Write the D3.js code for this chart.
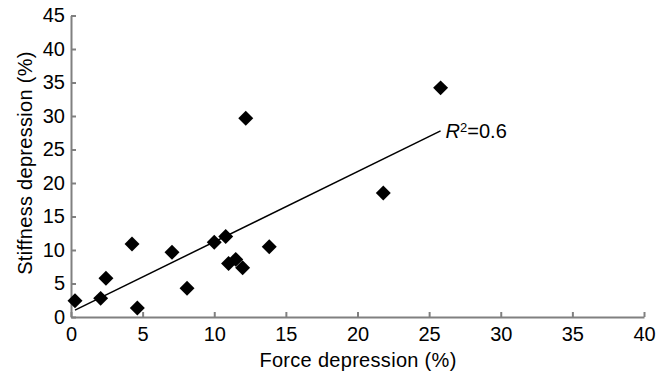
<!DOCTYPE html>
<html>
<head>
<meta charset="utf-8">
<script src="https://cdn.jsdelivr.net/npm/d3@7"></script>
<style>
  body { margin: 0; background: #fff; }
  svg { font-family: "Liberation Sans", Arial, sans-serif; }
  .axis path, .axis line { stroke: #808080; stroke-width: 2; }
  .axis text { font-size: 20px; fill: #000; }
</style>
</head>
<body>
<svg></svg>
<script>
// force depression (%) vs stiffness depression (%)
const forceDep = [0.28, 2.07, 2.44, 4.26, 4.63, 7.05, 8.1, 10.0, 10.8, 11.0, 11.5, 11.98, 13.84, 12.2, 21.8, 25.8];
const stiffDep = [2.43, 2.78, 5.77, 10.9, 1.34, 9.65, 4.28, 11.15, 12.0, 8.0, 8.6, 7.36, 10.5, 29.65, 18.5, 34.2];
const xTicks = [0, 5, 10, 15, 20, 25, 30, 35, 40];
const yTicks = [0, 5, 10, 15, 20, 25, 30, 35, 40, 45];
const r2Label = "0.6";

const svgWidth = 657, svgHeight = 372;
const margin = { top: 15.5, right: 13, bottom: 55, left: 71 };

const svg = d3.select("svg")
  .attr("width", svgWidth)
  .attr("height", svgHeight);

const xScale = d3.scaleLinear().domain([0, 40])
  .range([margin.left, svgWidth - margin.right]);
const yScale = d3.scaleLinear().domain([0, 45])
  .range([svgHeight - margin.bottom, margin.top]);

const dataset = forceDep.map((x, i) => ({ x: x, y: stiffDep[i] }));

// least squares fit
const mx = d3.mean(forceDep), my = d3.mean(stiffDep);
const sxy = d3.sum(dataset, d => (d.x - mx) * (d.y - my));
const sxx = d3.sum(dataset, d => (d.x - mx) * (d.x - mx));
const slope = sxy / sxx, intercept = my - slope * mx;
const xMin = d3.min(forceDep), xMax = d3.max(forceDep);

const xAxis = d3.axisBottom(xScale).tickValues(xTicks)
  .tickSizeInner(-5).tickSizeOuter(0).tickPadding(10);
svg.append("g")
  .attr("class", "axis")
  .attr("transform", `translate(0, ${yScale(0)})`)
  .call(xAxis);

const yAxis = d3.axisLeft(yScale).tickValues(yTicks)
  .tickSizeInner(-5).tickSizeOuter(0).tickPadding(6);
svg.append("g")
  .attr("class", "axis")
  .attr("transform", `translate(${xScale(0)}, 0)`)
  .call(yAxis);

svg.selectAll(".axis").attr("font-family", null).attr("font-size", null);

// regression line
svg.append("line")
  .attr("x1", xScale(xMin)).attr("y1", yScale(intercept + slope * xMin))
  .attr("x2", xScale(xMax)).attr("y2", yScale(intercept + slope * xMax))
  .attr("stroke", "#000")
  .attr("stroke-width", 1.5);

// diamonds
svg.selectAll("path.pt")
  .data(dataset)
  .enter()
  .append("path")
  .attr("class", "pt")
  .attr("d", d3.symbol().type(d3.symbolSquare).size(112))
  .attr("fill", "#000")
  .attr("transform", d => `translate(${xScale(d.x)}, ${yScale(d.y)}) rotate(45)`);

// R² label
const r2 = svg.append("text")
  .attr("x", xScale(xMax) + 5)
  .attr("y", yScale(intercept + slope * xMax) + 7)
  .attr("font-size", "20px");
r2.append("tspan").attr("font-style", "italic").text("R");
r2.append("tspan").attr("font-size", "13px").attr("dy", "-6").text("2");
r2.append("tspan").attr("dy", "6").text("=" + r2Label);

// axis titles
svg.append("text")
  .attr("x", 358)
  .attr("y", 367)
  .attr("font-size", "20px")
  .style("letter-spacing", "0.3px")
  .style("text-anchor", "middle")
  .text("Force depression (%)");

svg.append("text")
  .attr("transform", "rotate(-90)")
  .attr("x", -163)
  .attr("y", 32)
  .attr("font-size", "20px")
  .style("letter-spacing", "0.3px")
  .style("text-anchor", "middle")
  .text("Stiffness depression (%)");
</script>
</body>
</html>
